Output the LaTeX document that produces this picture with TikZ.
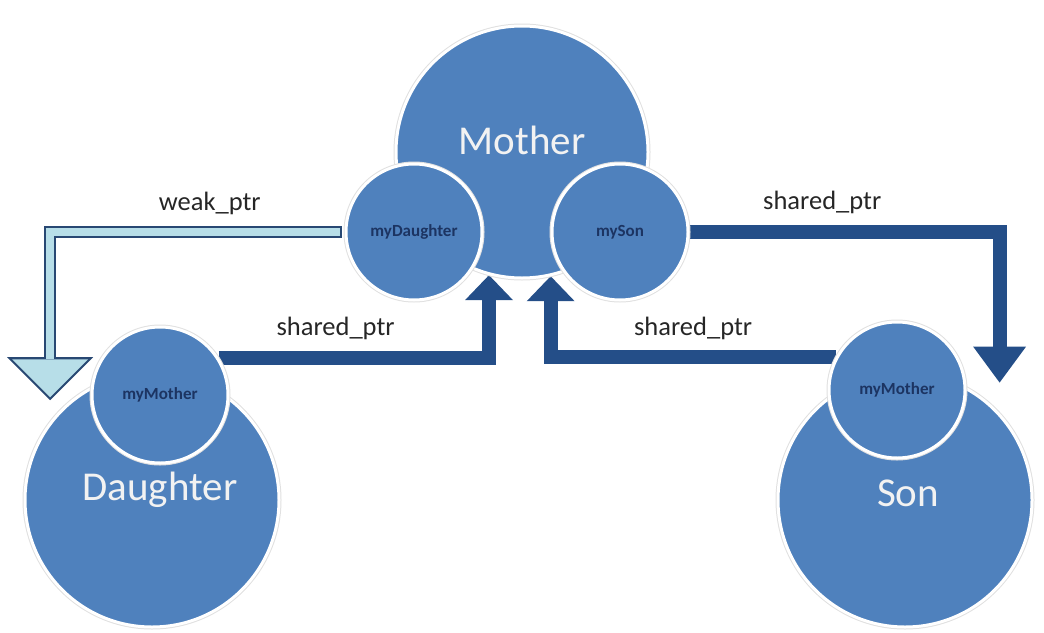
\documentclass[tikz,border=0pt]{standalone}
\usepackage{fontspec}
\setmainfont{Carlito}
\usetikzlibrary{arrows.meta, positioning, calc, backgrounds}
\definecolor{circblue}{RGB}{79,129,189}
\definecolor{ptrdark}{RGB}{36,78,136}
\definecolor{weakfill}{RGB}{183,222,232}
\definecolor{weakedge}{RGB}{40,72,115}
\definecolor{smalltext}{RGB}{28,52,98}

\begin{document}
\begin{tikzpicture}[x=1pt, y=-1pt,
        obj/.style={circle, fill=circblue, draw=white, line width=3pt, inner sep=0pt, minimum size=254pt,
            preaction={draw=black!12, line width=5pt}},
        member/.style={obj, minimum size=136pt, font=\fontsize{17}{20}\selectfont\bfseries, text=smalltext},
        bigname/.style={text=white!95!black, font=\fontsize{41}{48}\selectfont},
        ptr/.style={draw=ptrdark, line width=14pt, line join=miter},
        ptrlabel/.style={font=\fontsize{26.5}{30}\selectfont, inner sep=2pt, text=black!85}
    ]
        \useasboundingbox (0,0) rectangle (1044,632);

        % Mother
        \node[obj, minimum size=252pt, label={[bigname, yshift=12pt]center:Mother}] (mother) at (522,152) {};
        \node[member] (mydaughter) at (414,232) {myDaughter};
        \node[member] (myson) at (620,232) {mySon};

        % Daughter
        \node[obj, label={[bigname, xshift=8pt, yshift=10pt]center:Daughter}] (daughter) at (152,500) {};
        \node[member] (mymotherd) at (160,395) {myMother};

        % Son
        \node[obj, label={[bigname, xshift=3pt, yshift=7pt]center:Son}] (son) at (905,500) {};
        \node[member] (mymothers) at (897,390) {myMother};

        % Tips
        \coordinate (weaktip) at ([shift={(-11,-9)}]daughter.135);
        \coordinate (sontip) at ([shift={(12,-19)}]son.50);

        % Pointers
        \begin{scope}[on background layer]
            \draw[ptr, draw=weakedge, line width=12pt, -{Triangle[width=86pt, length=43pt, line width=0pt]}]
                ([xshift=-3pt]mydaughter.west) -| (weaktip) node[ptrlabel, pos=0.226, above=9pt] {weak\_ptr};
            \draw[ptr, draw=weakfill, line width=8pt, shorten <=2pt, shorten >=2.8pt,
                -{Triangle[width=76pt, length=38pt, line width=0pt]}]
                ([xshift=-3pt]mydaughter.west) -| (weaktip);
            \draw[ptr, -{Triangle[width=48pt, length=25pt, line width=0pt]}]
                (mymotherd.32) -| (mother.255) node[ptrlabel, pos=0.216, above=9pt] {shared\_ptr};
            \draw[ptr, -{Triangle[width=48pt, length=25pt, line width=0pt]}]
                (mymothers.152) -| (mother.283) node[ptrlabel, pos=0.25, above=9pt] {shared\_ptr};
            \draw[ptr, -{Triangle[width=53pt, length=36pt, line width=0pt]}]
                (myson.east) -| (sontip) node[ptrlabel, pos=0.214, above=9pt] {shared\_ptr};
        \end{scope}
    \end{tikzpicture}
\end{document}
